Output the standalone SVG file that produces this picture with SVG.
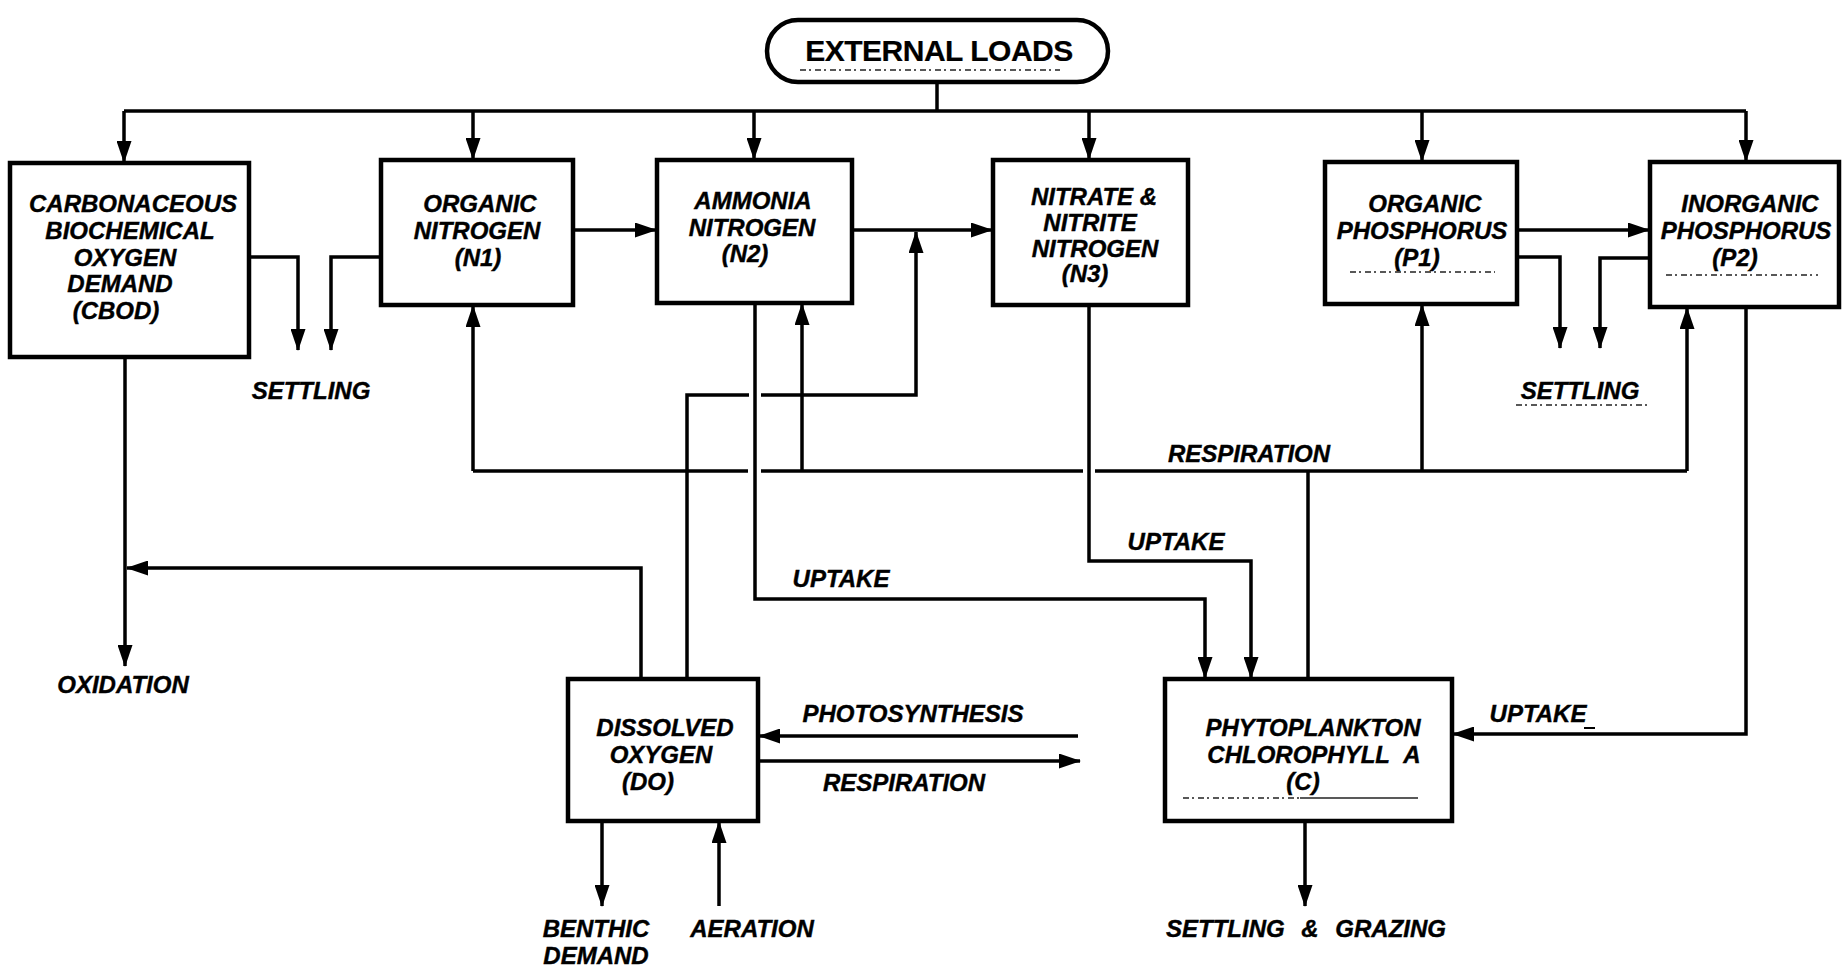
<svg xmlns="http://www.w3.org/2000/svg" width="1845" height="968" viewBox="0 0 1845 968">
<defs>
<marker id="arr" markerUnits="userSpaceOnUse" markerWidth="22" markerHeight="15" refX="21" refY="7.5" orient="auto">
<path d="M0,0 L22,7.5 L0,15 z" fill="#000"/>
</marker>
<style>
.box{fill:#fff;stroke:#000;stroke-width:4.5}
.c{fill:none;stroke:#000;stroke-width:3.5}
.a{fill:none;stroke:#000;stroke-width:3.5;marker-end:url(#arr)}
text{font-family:"Liberation Sans",Arial,Helvetica,sans-serif;font-weight:bold;font-style:italic;font-size:24px;fill:#000;stroke:#000;stroke-width:0.4;text-anchor:middle}
.ext{font-style:normal;font-size:30px;letter-spacing:-0.5px;stroke-width:0.2}
.u{fill:none;stroke:#222;stroke-width:1.5;stroke-dasharray:6 3 2 4}
</style>
</defs>
<rect width="1845" height="968" fill="#fff"/>

<g id="connectors">
<path class="c" d="M937,82 V111"/>
<path class="c" d="M124,111 H1746"/>
<path class="a" d="M124,111 V162"/>
<path class="a" d="M473,111 V159"/>
<path class="a" d="M754,111 V159"/>
<path class="a" d="M1089,111 V159"/>
<path class="a" d="M1422,111 V161"/>
<path class="a" d="M1746,111 V161"/>
<path class="a" d="M249,257 H298 V350"/>
<path class="a" d="M381,257 H331 V350"/>
<path class="a" d="M573,230 H656"/>
<path class="a" d="M852,230 H992"/>
<path class="a" d="M1517,230 H1649"/>
<path class="a" d="M1517,257 H1560 V348"/>
<path class="a" d="M1650,258 H1600 V348"/>
<path class="a" d="M125,357 V666"/>
<path class="a" d="M641,679 V568 H127"/>
<path class="c" d="M687,679 V395 H749"/>
<path class="a" d="M761,395 H916 V232"/>
<path class="c" d="M1308,679 V471"/>
<path class="c" d="M473,471 H748"/>
<path class="c" d="M761,471 H1083"/>
<path class="c" d="M1095,471 H1687"/>
<path class="a" d="M473,471 V306"/>
<path class="a" d="M802,471 V304"/>
<path class="a" d="M1422,471 V305"/>
<path class="a" d="M1687,471 V308"/>
<path class="a" d="M755,303 V599 H1205 V678"/>
<path class="a" d="M1089,305 V561 H1251 V678"/>
<path class="a" d="M1746,307 V734 H1453"/>
<path class="a" d="M1305,821 V906"/>
<path class="a" d="M1078,736 H759"/>
<path class="a" d="M758,761 H1080"/>
<path class="a" d="M602,821 V906"/>
<path class="a" d="M719,906 V822"/>
</g>

<g id="external-loads">
<rect class="box" x="767" y="20" width="341" height="62" rx="31" ry="31"/>
<text class="ext" x="939" y="60.5">EXTERNAL LOADS</text>
<path class="u" d="M800,70 H1060"/>
</g>

<g id="cbod">
<rect class="box" x="10" y="163" width="239" height="194"/>
<text x="133" y="211.5">CARBONACEOUS</text>
<text x="130" y="238.5">BIOCHEMICAL</text>
<text x="125" y="265.5">OXYGEN</text>
<text x="120" y="291.5">DEMAND</text>
<text x="116" y="318.5">(CBOD)</text>
</g>

<g id="organic-nitrogen">
<rect class="box" x="381" y="160" width="192" height="145"/>
<text x="480" y="211.5">ORGANIC</text>
<text x="477" y="238.5">NITROGEN</text>
<text x="478" y="265.5">(N1)</text>
</g>

<g id="ammonia-nitrogen">
<rect class="box" x="657" y="160" width="195" height="143"/>
<text x="753" y="208.5">AMMONIA</text>
<text x="752" y="235.5">NITROGEN</text>
<text x="745" y="261.5">(N2)</text>
</g>

<g id="nitrate-nitrogen">
<rect class="box" x="993" y="160" width="195" height="145"/>
<text x="1094" y="204.5">NITRATE &amp;</text>
<text x="1090" y="230.5">NITRITE</text>
<text x="1095" y="256.5">NITROGEN</text>
<text x="1085" y="281.5">(N3)</text>
</g>

<g id="organic-phosphorus">
<rect class="box" x="1325" y="162" width="192" height="142"/>
<text x="1425" y="211.5">ORGANIC</text>
<text x="1422" y="238.5">PHOSPHORUS</text>
<text x="1417" y="265.5">(P1)</text>
<path class="u" d="M1350,272 H1495"/>
</g>

<g id="inorganic-phosphorus">
<rect class="box" x="1650" y="162" width="189" height="145"/>
<text x="1750" y="211.5">INORGANIC</text>
<text x="1746" y="238.5">PHOSPHORUS</text>
<text x="1735" y="265.5">(P2)</text>
<path class="u" d="M1666,275 H1818"/>
</g>

<g id="dissolved-oxygen">
<rect class="box" x="568" y="679" width="190" height="142"/>
<text x="665" y="735.5">DISSOLVED</text>
<text x="661" y="762.5">OXYGEN</text>
<text x="648" y="789.5">(DO)</text>
</g>

<g id="phytoplankton">
<rect class="box" x="1165" y="679" width="287" height="142"/>
<text x="1313" y="735.5">PHYTOPLANKTON</text>
<text x="1314" y="762.5" word-spacing="8">CHLOROPHYLL A</text>
<text x="1303" y="789.5">(C)</text>
<path class="u" d="M1183,798 H1300"/>
<path d="M1300,798 H1418" fill="none" stroke="#222" stroke-width="1.5"/>
</g>

<g id="labels">
<text x="311" y="398.5">SETTLING</text>
<text x="1580" y="398.5">SETTLING</text>
<path class="u" d="M1516,405 H1648"/>
<text x="123" y="692.5">OXIDATION</text>
<text x="1249" y="461.5">RESPIRATION</text>
<text x="1176" y="549.5">UPTAKE</text>
<text x="841" y="586.5">UPTAKE</text>
<text x="913" y="721.5">PHOTOSYNTHESIS</text>
<text x="904" y="790.5">RESPIRATION</text>
<text x="1538" y="721.5">UPTAKE</text>
<path d="M1584,728 H1595" fill="none" stroke="#000" stroke-width="2"/>
<text x="596" y="936.5">BENTHIC</text>
<text x="596" y="963.5">DEMAND</text>
<text x="752" y="936.5">AERATION</text>
<text x="1306" y="936.5" word-spacing="10">SETTLING &amp; GRAZING</text>
</g>
</svg>
